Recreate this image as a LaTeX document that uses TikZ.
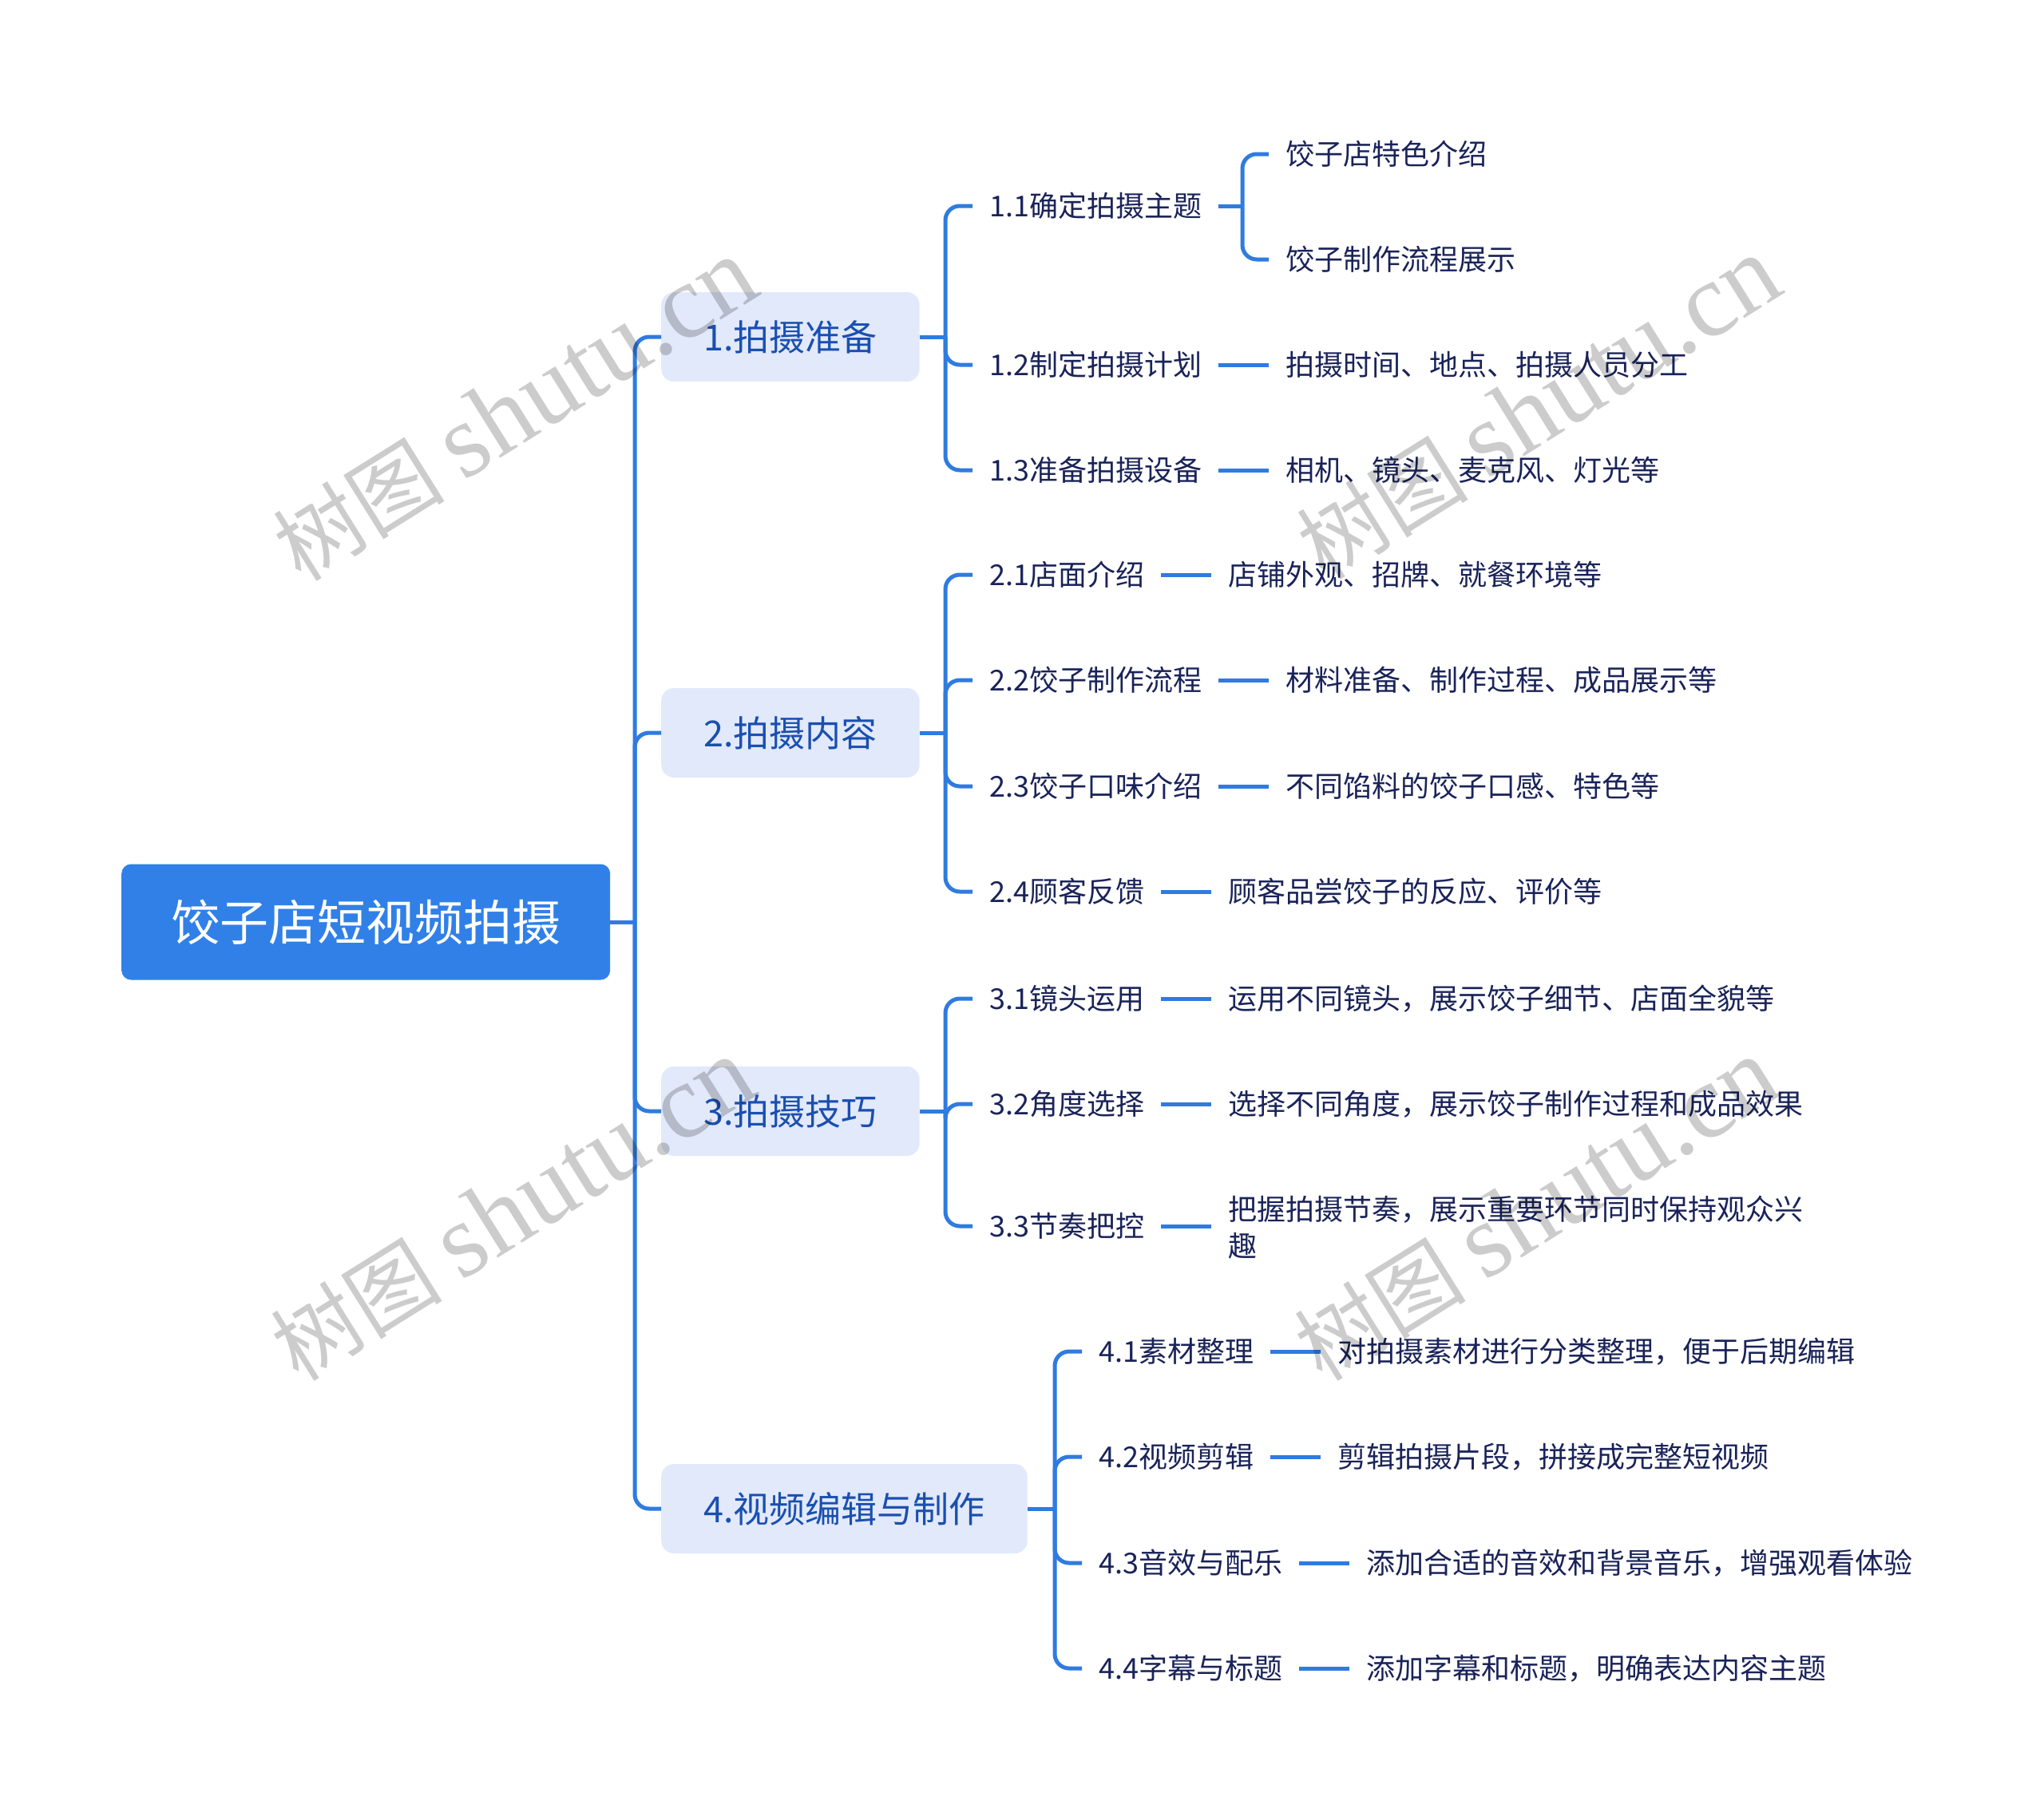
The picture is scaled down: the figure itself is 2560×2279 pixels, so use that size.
\documentclass[tikz,border=0pt]{standalone}
\usepackage{fontspec}
\setmainfont{Noto Sans CJK SC}
\newfontfamily\wmlat{Liberation Serif}
\newfontfamily\wmcjk{Noto Sans CJK SC}
\definecolor{lineblue}{HTML}{2F7BE0}
\definecolor{rootblue}{HTML}{3080E8}
\definecolor{lonefill}{HTML}{E1E9FB}
\definecolor{lonetext}{HTML}{1A4FB0}
\definecolor{darktext}{HTML}{1A2359}
\tikzset{
  conn/.style={draw=lineblue, line width=5pt, rounded corners=18pt},
  rootbox/.style={fill=rootblue, rounded corners=12pt, text=white,
    font=\fontsize{61}{70}\selectfont, minimum height=145pt, inner xsep=62pt,
    text height=53.7pt, text depth=7.3pt, anchor=west},
  lonebox/.style={fill=lonefill, rounded corners=16pt, text=lonetext,
    font=\fontsize{45}{54}\selectfont, minimum height=112pt, inner xsep=53pt,
    text height=39.6pt, text depth=5.4pt, anchor=west},
  ltwo/.style={text=darktext, font=\fontsize{36}{46}\selectfont, inner xsep=21pt,
    inner ysep=4pt, text height=31.7pt, text depth=4.3pt, anchor=west},
  leafml/.style={text=darktext, font=\fontsize{36}{46}\selectfont, inner xsep=21pt,
    inner ysep=4pt, align=left, anchor=west},
  wmark/.style={text=black, opacity=0.2, rotate=32, anchor=center}
}
\begin{document}
\begin{tikzpicture}[x=1pt,y=-1pt]
\useasboundingbox[fill=white] (0,0) rectangle (2560,2279);

% root
\node[rootbox] (root) at (152,1155) {饺子店短视频拍摄};

% level 1
\node[lonebox] (g1) at (828,422) {1.拍摄准备};
\node[lonebox] (g2) at (828,918) {2.拍摄内容};
\node[lonebox] (g3) at (828,1392) {3.拍摄技巧};
\node[lonebox] (g4) at (828,1890) {4.视频编辑与制作};

% level 2
\node[ltwo] (n11) at (1218,258) {1.1确定拍摄主题};
\node[ltwo] (n12) at (1218,457) {1.2制定拍摄计划};
\node[ltwo] (n13) at (1218,589) {1.3准备拍摄设备};

\node[ltwo] (n21) at (1218,720) {2.1店面介绍};
\node[ltwo] (n22) at (1218,852) {2.2饺子制作流程};
\node[ltwo] (n23) at (1218,985) {2.3饺子口味介绍};
\node[ltwo] (n24) at (1218,1117) {2.4顾客反馈};

\node[ltwo] (n31) at (1218,1251) {3.1镜头运用};
\node[ltwo] (n32) at (1218,1383) {3.2角度选择};
\node[ltwo] (n33) at (1218,1536) {3.3节奏把控};

\node[ltwo] (n41) at (1355,1693) {4.1素材整理};
\node[ltwo] (n42) at (1355,1825) {4.2视频剪辑};
\node[ltwo] (n43) at (1355,1958) {4.3音效与配乐};
\node[ltwo] (n44) at (1355,2090) {4.4字幕与标题};

% leaves
\node[ltwo] (l111) at (1589,193) {饺子店特色介绍};
\node[ltwo] (l112) at (1589,325) {饺子制作流程展示};
\node[ltwo] (l12) at (1589,457) {拍摄时间、地点、拍摄人员分工};
\node[ltwo] (l13) at (1589,589) {相机、镜头、麦克风、灯光等};

\node[ltwo] (l21) at (1517,720) {店铺外观、招牌、就餐环境等};
\node[ltwo] (l22) at (1589,852) {材料准备、制作过程、成品展示等};
\node[ltwo] (l23) at (1589,985) {不同馅料的饺子口感、特色等};
\node[ltwo] (l24) at (1517,1117) {顾客品尝饺子的反应、评价等};

\node[ltwo] (l31) at (1517,1251) {运用不同镜头，展示饺子细节、店面全貌等};
\node[ltwo] (l32) at (1517,1383) {选择不同角度，展示饺子制作过程和成品效果};
\node[leafml] (l33) at (1517,1538) {把握拍摄节奏，展示重要环节同时保持观众兴\\趣};

\node[ltwo] (l41) at (1654,1693) {对拍摄素材进行分类整理，便于后期编辑};
\node[ltwo] (l42) at (1654,1825) {剪辑拍摄片段，拼接成完整短视频};
\node[ltwo] (l43) at (1690,1958) {添加合适的音效和背景音乐，增强观看体验};
\node[ltwo] (l44) at (1690,2090) {添加字幕和标题，明确表达内容主题};

% junction coordinates
\coordinate (jr) at (795,1155);
\coordinate (j1) at (1184,422);
\coordinate (j2) at (1184,918);
\coordinate (j3) at (1184,1392);
\coordinate (j4) at (1321,1890);
\coordinate (j11) at (1556,258);

% root to level 1
\draw[conn] (root.east) -- (jr);
\foreach \g in {g1,g2,g3,g4} { \draw[conn] (jr) |- (\g.west); }

% level 1 to level 2
\draw[conn] (g1.east) -- (j1);
\foreach \n in {n11,n12,n13} { \draw[conn] (j1) |- (\n.west); }
\draw[conn] (g2.east) -- (j2);
\foreach \n in {n21,n22,n23,n24} { \draw[conn] (j2) |- (\n.west); }
\draw[conn] (g3.east) -- (j3);
\foreach \n in {n31,n32,n33} { \draw[conn] (j3) |- (\n.west); }
\draw[conn] (g4.east) -- (j4);
\foreach \n in {n41,n42,n43,n44} { \draw[conn] (j4) |- (\n.west); }

% level 2 to leaves
\draw[conn] (n11.east) -- (j11);
\draw[conn] (j11) |- (l111.west);
\draw[conn] (j11) |- (l112.west);
\draw[conn] (n12.east) -- (l12.west);
\draw[conn] (n13.east) -- (l13.west);
\draw[conn] (n21.east) -- (l21.west);
\draw[conn] (n22.east) -- (l22.west);
\draw[conn] (n23.east) -- (l23.west);
\draw[conn] (n24.east) -- (l24.west);
\draw[conn] (n31.east) -- (l31.west);
\draw[conn] (n32.east) -- (l32.west);
\draw[conn] (n33.east) -- (n33.east -| l33.west);
\draw[conn] (n41.east) -- (l41.west);
\draw[conn] (n42.east) -- (l42.west);
\draw[conn] (n43.east) -- (l43.west);
\draw[conn] (n44.east) -- (l44.west);

% watermarks
\node[wmark] (w1) at (645,514) {\wmcjk\fontsize{108}{120}\selectfont 树图 \wmlat\fontsize{132}{140}\selectfont shutu.cn};
\node[wmark] (w2) at (1927,512) {\wmcjk\fontsize{108}{120}\selectfont 树图 \wmlat\fontsize{132}{140}\selectfont shutu.cn};
\node[wmark] (w3) at (642,1516) {\wmcjk\fontsize{108}{120}\selectfont 树图 \wmlat\fontsize{132}{140}\selectfont shutu.cn};
\node[wmark] (w4) at (1924,1516) {\wmcjk\fontsize{108}{120}\selectfont 树图 \wmlat\fontsize{132}{140}\selectfont shutu.cn};
\end{tikzpicture}
\end{document}
